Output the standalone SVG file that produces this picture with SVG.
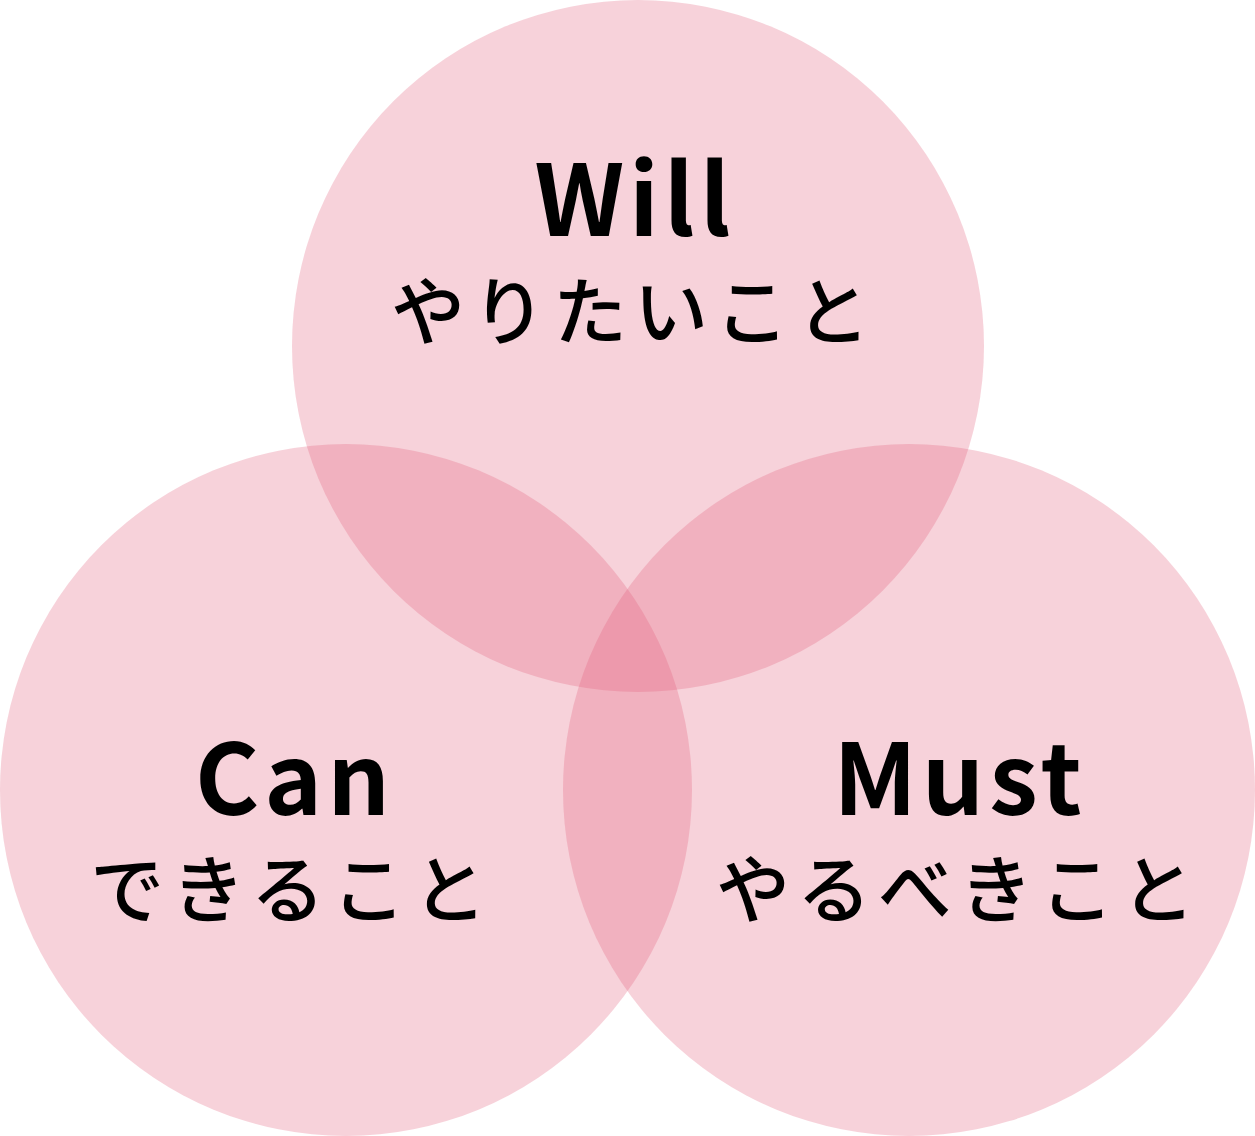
<svg xmlns="http://www.w3.org/2000/svg" width="1255" height="1136" viewBox="0 0 1255 1136">
<style>
.c{fill:rgb(226,94,123);fill-opacity:0.28}
.en{font-family:"Noto Sans CJK JP","Noto Sans",sans-serif;font-weight:700;font-size:98px;letter-spacing:5px;text-anchor:middle;fill:#000}
.jp{font-family:"Noto Sans CJK JP",sans-serif;font-weight:500;font-size:74px;letter-spacing:7px;text-anchor:middle;fill:#000}
</style>
<rect width="1255" height="1136" fill="#fff"/>
<g id="will"><circle class="c" cx="638" cy="346" r="346"/></g>
<g id="can"><circle class="c" cx="346" cy="790" r="346"/></g>
<g id="must"><circle class="c" cx="909" cy="790" r="346"/></g>
<g id="connectors"/>
<g id="labels">
<text class="en" x="635" y="236">Will</text>
<text class="jp" x="634" y="339">やりたいこと</text>
<text class="en" x="295" y="815">Can</text>
<text class="jp" x="292" y="917">できること</text>
<text class="en" x="960" y="815">Must</text>
<text class="jp" x="959" y="917">やるべきこと</text>
</g>
</svg>
